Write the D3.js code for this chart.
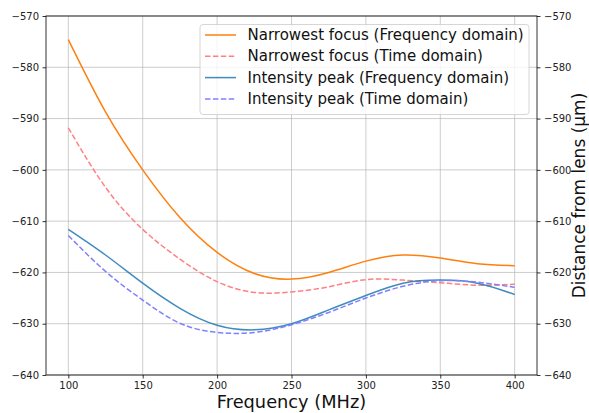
<!DOCTYPE html>
<html>
<head>
<meta charset="utf-8">
<script src="https://cdn.jsdelivr.net/npm/d3@7"></script>
<style>
  body { margin: 0; background: #fff; }
  svg { display: block; font-family: "DejaVu Sans", sans-serif; }
</style>
</head>
<body>
<svg id="chart" width="589" height="413"></svg>
<script>
const freqs = [100, 125, 150, 175, 200, 225, 250, 275, 300, 325, 350, 375, 400];

// distance from lens (um) for each series
const focusFreq = [-574.6, -588.7, -600.0, -609.3, -616.1, -620.2, -621.3, -620.0, -617.8, -616.6, -617.2, -618.3, -618.7];
const focusTime = [-591.8, -603.4, -611.6, -617.4, -621.8, -623.9, -623.8, -622.8, -621.4, -621.5, -622.0, -622.5, -622.3];
const peakFreq  = [-611.6, -616.6, -622.1, -627.0, -630.3, -631.2, -630.0, -627.3, -624.5, -622.1, -621.5, -622.1, -624.3];
const peakTime  = [-612.8, -619.8, -625.4, -629.9, -631.7, -631.7, -630.2, -627.8, -625.0, -622.7, -621.6, -621.9, -622.9];

const xTicks = [100, 150, 200, 250, 300, 350, 400];
const yTicks = [-570, -580, -590, -600, -610, -620, -630, -640];

const series = [
  { name: "Narrowest focus (Frequency domain)", values: focusFreq, color: "#ff7f0e", dash: null, opacity: 1 },
  { name: "Narrowest focus (Time domain)", values: focusTime, color: "#ff8080", dash: "5.5,2.4", opacity: 1 },
  { name: "Intensity peak (Frequency domain)", values: peakFreq, color: "#1f77b4", dash: null, opacity: 0.85 },
  { name: "Intensity peak (Time domain)", values: peakTime, color: "#8080ff", dash: "5.5,2.4", opacity: 1 }
];

const svg = d3.select("#chart");
const pLeft = 46, pRight = 537, pTop = 16, pBottom = 375;

const x = d3.scaleLinear().domain([85, 415]).range([pLeft, pRight]);
const y = d3.scaleLinear().domain([-640, -570]).range([pBottom, pTop]);

// grid
const grid = svg.append("g");
grid.selectAll("line.gx").data(xTicks).enter().append("line")
  .attr("x1", d => x(d)).attr("x2", d => x(d))
  .attr("y1", pTop).attr("y2", pBottom)
  .attr("stroke", "#b0b0b0").attr("stroke-width", 0.8).attr("stroke-opacity", 0.8);
grid.selectAll("line.gy").data(yTicks).enter().append("line")
  .attr("x1", pLeft).attr("x2", pRight)
  .attr("y1", d => y(d)).attr("y2", d => y(d))
  .attr("stroke", "#b0b0b0").attr("stroke-width", 0.8).attr("stroke-opacity", 0.8);

// lines
const line = d3.line().x(d => x(d[0])).y(d => y(d[1])).curve(d3.curveNatural);
series.forEach(s => {
  svg.append("path")
    .datum(freqs.map((f, i) => [f, s.values[i]]))
    .attr("d", line)
    .attr("fill", "none")
    .attr("stroke", s.color)
    .attr("stroke-opacity", s.opacity)
    .attr("stroke-width", 1.5)
    .attr("stroke-dasharray", s.dash);
});

// axes
const fmt = d => d < 0 ? "\u2212" + Math.abs(d) : String(d);
const axisStyle = g => {
  g.select(".domain").remove();
  g.selectAll(".tick line").attr("stroke", "#000").attr("stroke-width", 0.8);
  g.selectAll(".tick text").attr("fill", "#222").style("font-size", "10px")
    .style("font-family", "DejaVu Sans, sans-serif");
};
svg.append("g").attr("transform", `translate(0,${pBottom})`)
  .call(d3.axisBottom(x).tickValues(xTicks).tickSize(3.5).tickPadding(3.5))
  .call(axisStyle);
svg.append("g").attr("transform", `translate(${pLeft},0)`)
  .call(d3.axisLeft(y).tickValues(yTicks).tickFormat(fmt).tickSize(3.5).tickPadding(3.5))
  .call(axisStyle);
svg.append("g").attr("transform", `translate(${pRight},0)`)
  .call(d3.axisRight(y).tickValues(yTicks).tickFormat(fmt).tickSize(3.5).tickPadding(3.5))
  .call(axisStyle);

// frame
svg.append("rect")
  .attr("x", pLeft).attr("y", pTop)
  .attr("width", pRight - pLeft).attr("height", pBottom - pTop)
  .attr("fill", "none").attr("stroke", "#000").attr("stroke-width", 0.8);

// labels
svg.append("text")
  .attr("x", (pLeft + pRight) / 2).attr("y", 408)
  .attr("text-anchor", "middle")
  .style("font-size", "17.8px").attr("fill", "#111")
  .text("Frequency (MHz)");
svg.append("text")
  .attr("transform", `translate(584.5,${(pTop + pBottom) / 2}) rotate(-90)`)
  .attr("text-anchor", "middle")
  .style("font-size", "17px").attr("fill", "#111")
  .text("Distance from lens (\u03bcm)");

// legend
const lg = svg.append("g").attr("transform", "translate(200,24.5)");
lg.append("rect")
  .attr("width", 329).attr("height", 90).attr("rx", 3)
  .attr("fill", "#fff").attr("fill-opacity", 0.8)
  .attr("stroke", "#cccccc").attr("stroke-width", 0.8);
series.forEach((s, i) => {
  const cy = 10.5 + i * 21.3;
  lg.append("line")
    .attr("x1", 5).attr("x2", 36).attr("y1", cy).attr("y2", cy)
    .attr("stroke", s.color).attr("stroke-opacity", s.opacity)
    .attr("stroke-width", 1.5).attr("stroke-dasharray", s.dash);
  lg.append("text")
    .attr("x", 47.5).attr("y", cy).attr("dominant-baseline", "central")
    .style("font-size", "15px").attr("fill", "#111")
    .text(s.name);
});
</script>
</body>
</html>
